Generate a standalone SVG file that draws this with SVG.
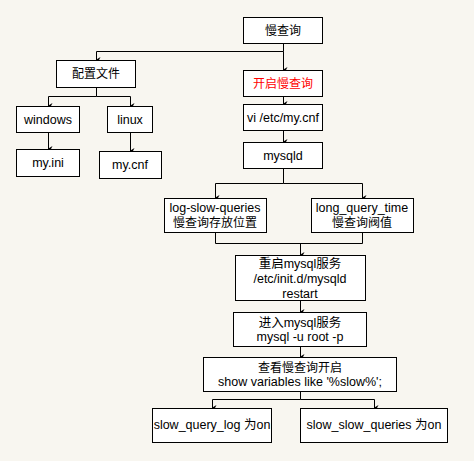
<svg xmlns="http://www.w3.org/2000/svg" width="474" height="461" viewBox="0 0 474 461">
<style>
.box{fill:#ffffff;stroke:#000000;stroke-width:1}
.t{font-family:"Liberation Sans","Noto Sans CJK SC",sans-serif;font-size:12.5px;fill:#000000;text-anchor:middle}
.cj{font-size:12px}
.red{fill:#ff0000}
.c{fill:none;stroke:#000000;stroke-width:1}
.a{fill:none;stroke:#000000;stroke-width:1;marker-end:url(#arr)}
</style>
<defs>
<marker id="arr" markerWidth="6" markerHeight="6" refX="3" refY="5" orient="auto" markerUnits="userSpaceOnUse" viewBox="0 0 6 6">
<path d="M0,1 L3,2.5 L6,1 L3,6 Z" fill="#000"/>
</marker>
</defs>
<rect width="474" height="461" fill="#f8f6f0"/>
<g id="connectors">
<path class="c" d="M283.5,43.5 V51.5 H96.5"/>
<path class="a" d="M96.5,51.5 V60"/>
<path class="a" d="M283.5,51.5 V70"/>
<path class="c" d="M96.5,87.5 V96.5 H48.5"/>
<path class="a" d="M48.5,96.5 V106"/>
<path class="c" d="M96.5,96.5 H130.5"/>
<path class="a" d="M130.5,96.5 V106"/>
<path class="a" d="M48.5,132.5 V149"/>
<path class="a" d="M130.5,132.5 V151"/>
<path class="a" d="M283.5,96.5 V104"/>
<path class="a" d="M283.5,130.5 V142"/>
<path class="c" d="M283.5,168.5 V183.5 H215.5"/>
<path class="a" d="M215.5,183.5 V198"/>
<path class="c" d="M283.5,183.5 H362.5"/>
<path class="a" d="M362.5,183.5 V198"/>
<path class="c" d="M215.5,232.5 V243.5 H362.5 V232.5"/>
<path class="a" d="M300.5,243.5 V255"/>
<path class="a" d="M300.5,300.5 V312"/>
<path class="a" d="M300.5,346.5 V357"/>
<path class="c" d="M300.5,391.5 V399.5 H212.5"/>
<path class="a" d="M212.5,399.5 V408"/>
<path class="c" d="M300.5,399.5 H374.5"/>
<path class="a" d="M374.5,399.5 V408"/>
</g>
<g id="n-slow"><rect class="box" x="243.5" y="17.5" width="79" height="26"/><text class="t cj" x="283" y="35">慢查询</text></g>
<g id="n-config"><rect class="box" x="56.5" y="60.5" width="79" height="27"/><text class="t cj" x="96" y="78">配置文件</text></g>
<g id="n-enable"><rect class="box" x="243.5" y="70.5" width="79" height="26"/><text class="t cj red" x="283" y="88">开启慢查询</text></g>
<g id="n-windows"><rect class="box" x="16.5" y="106.5" width="63" height="26"/><text class="t" x="48" y="124">windows</text></g>
<g id="n-linux"><rect class="box" x="107.5" y="106.5" width="45" height="26"/><text class="t" x="130" y="124">linux</text></g>
<g id="n-myini"><rect class="box" x="16.5" y="149.5" width="63" height="27"/><text class="t" x="48" y="167">my.ini</text></g>
<g id="n-mycnf"><rect class="box" x="99.5" y="151.5" width="62" height="27"/><text class="t" x="130" y="169">my.cnf</text></g>
<g id="n-vi"><rect class="box" x="243.5" y="104.5" width="79" height="26"/><text class="t" x="283" y="122">vi /etc/my.cnf</text></g>
<g id="n-mysqld"><rect class="box" x="243.5" y="142.5" width="79" height="26"/><text class="t" x="283" y="160">mysqld</text></g>
<g id="n-logslow"><rect class="box" x="164.5" y="198.5" width="102" height="34"/><text class="t" x="215" y="212">log-slow-queries</text><text class="t cj" x="215" y="227">慢查询存放位置</text></g>
<g id="n-longq"><rect class="box" x="311.5" y="198.5" width="102" height="34"/><text class="t" x="362" y="212">long_query_time</text><text class="t cj" x="362" y="227">慢查询阀值</text></g>
<g id="n-restart"><rect class="box" x="235.5" y="255.5" width="130" height="45"/><text class="t" x="300" y="268">重启mysql服务</text><text class="t" x="300" y="283">/etc/init.d/mysqld</text><text class="t" x="300" y="298">restart</text></g>
<g id="n-enter"><rect class="box" x="233.5" y="312.5" width="133" height="34"/><text class="t" x="300" y="327">进入mysql服务</text><text class="t" x="300" y="341">mysql -u root -p</text></g>
<g id="n-show"><rect class="box" x="203.5" y="357.5" width="193" height="34"/><text class="t cj" x="300" y="372">查看慢查询开启</text><text class="t" x="300" y="386">show variables like '%slow%';</text></g>
<g id="n-sql"><rect class="box" x="152.5" y="408.5" width="119" height="34"/><text class="t" x="212" y="429">slow_query_log 为on</text></g>
<g id="n-ssq"><rect class="box" x="300.5" y="408.5" width="147" height="34"/><text class="t" x="374" y="429">slow_slow_queries 为on</text></g>
</svg>
